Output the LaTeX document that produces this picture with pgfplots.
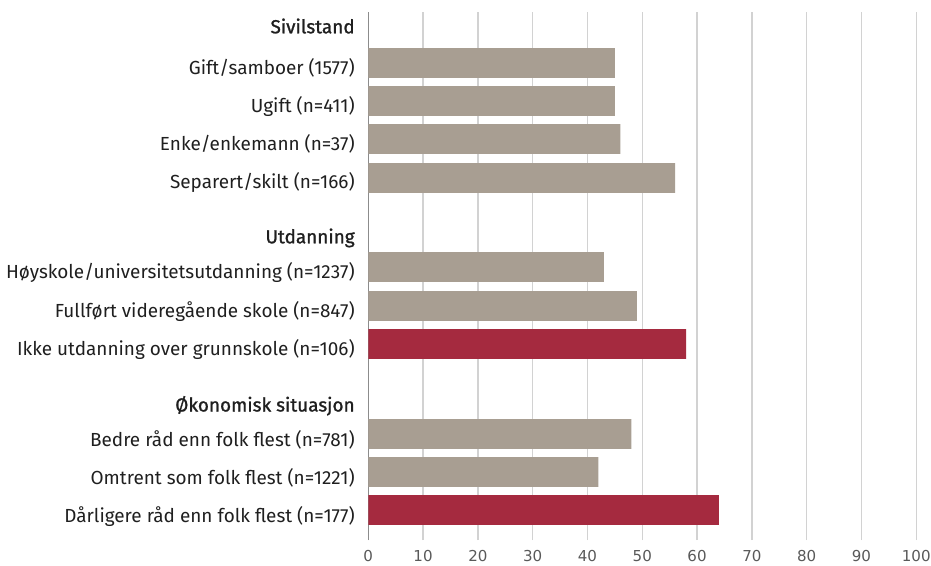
\documentclass[border=0pt]{standalone}
\usepackage{fontspec}
\setmainfont{Fira Sans}
\newfontfamily\hdr{Fira Sans}[FakeBold=1.2]
\newfontfamily\tickfont{DejaVu Sans}
\usepackage{pgfplots}
\pgfplotsset{compat=1.18}
\definecolor{bargray}{HTML}{A89E92}
\definecolor{barred}{HTML}{A52A3F}
\definecolor{gridgray}{HTML}{D2D2D2}
\definecolor{axgray}{HTML}{8C8C8C}
\definecolor{ticktext}{HTML}{595959}
\begin{document}
\begin{tikzpicture}
\path[use as bounding box] (0,0) rectangle (698.25pt,423.75pt);
\begin{axis}[
  at={(276.2pt,18.75pt)}, anchor=south west,
  scale only axis, width=411pt, height=396pt,
  xmin=0, xmax=100, ymin=25, ymax=553,
  axis lines*=left,
  x axis line style={draw=none},
  y axis line style={draw=axgray, line width=0.9pt},
  xtick={0,10,...,100},
  major tick length=0pt,
  xmajorgrids, grid style={draw=gridgray, line width=1.1pt},
  /pgf/number format/assume math mode=true,
  xticklabel style={font=\tickfont\fontsize{11.3}{13}\selectfont, text=ticktext, anchor=north, inner sep=0pt, yshift=-7.5pt},
  ytick={43,81,119,153.5,209.1,247.1,286.1,321.7,376,414,452,490.1,531.7},
  yticklabels={Dårligere råd enn folk flest (n=177),
    Omtrent som folk flest (n=1221),
    Bedre råd enn folk flest (n=781),
    {\hdr Økonomisk situasjon},
    Ikke utdanning over grunnskole (n=106),
    Fullført videregående skole (n=847),
    Høyskole/universitetsutdanning (n=1237),
    {\hdr Utdanning},
    Separert/skilt (n=166),
    Enke/enkemann (n=37),
    Ugift (n=411),
    Gift/samboer (1577),
    {\hdr Sivilstand}},
  yticklabel style={anchor=base east, font=\fontsize{14.2}{17}\selectfont, text=black!88, inner sep=0pt, xshift=-10pt},
]
\addplot[xbar, bar width=22.3pt, bar shift=0pt, fill=bargray, draw=none] coordinates {
  (45,502) (45,464) (46,426) (56,387) (43,298) (49,259) (48,131) (42,93)
};
\addplot[xbar, bar width=22.3pt, bar shift=0pt, fill=barred, draw=none] coordinates {
  (58,221) (64,55)
};
\end{axis}
\end{tikzpicture}
\end{document}
